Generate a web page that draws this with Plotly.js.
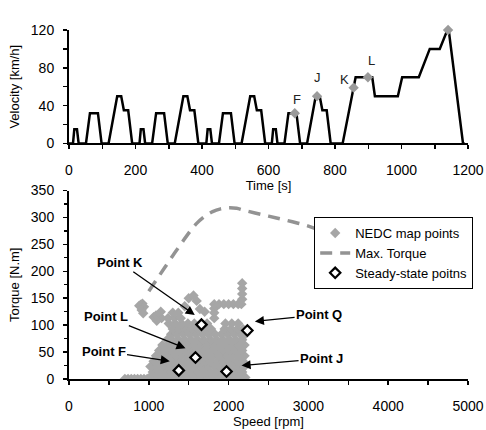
<!DOCTYPE html>
<html><head><meta charset="utf-8">
<script src="https://cdn.plot.ly/plotly-3.0.1.min.js"></script>
<style>html,body{margin:0;padding:0;background:#fff}#chart{width:486px;height:430px}</style>
</head><body><div id="chart"></div>
<script>
// ---- Top: NEDC velocity profile ----
const velTime = [0, 12, 16, 24, 29, 51, 63, 87, 98, 119, 145, 157, 165, 178, 190,
  212, 216, 224, 229, 250, 262, 286, 297, 318, 344, 356, 364, 377, 389,
  413, 417, 425, 430, 451, 463, 487, 498, 519, 545, 557, 565, 578, 590,
  610, 614, 622, 627, 648, 660, 684, 695, 716, 742, 754, 762, 775, 787,
  823, 862, 912, 920, 989, 1002, 1052, 1085, 1115, 1138, 1142, 1185, 1190];
const velKmh = [0, 0, 15, 15, 0, 0, 32, 32, 0, 0, 50, 50, 35, 35, 0,
  0, 15, 15, 0, 0, 32, 32, 0, 0, 50, 50, 35, 35, 0,
  0, 15, 15, 0, 0, 32, 32, 0, 0, 50, 50, 35, 35, 0,
  0, 15, 15, 0, 0, 32, 32, 0, 0, 50, 50, 35, 35, 0,
  0, 70, 70, 50, 50, 70, 70, 100, 100, 120, 120, 0, 0];
const ptLabels = ['F', 'J', 'K', 'L', 'Q'];
const ptTime = [679, 746, 856, 899, 1140];
const ptVel = [32, 50, 59, 70, 120];
const ptLabelTime = [687, 746, 829, 909, 1118];
const ptLabelVel = [47, 70, 68, 88, 132];

// ---- Bottom: torque vs speed ----
const maxTqSpeed = [1000, 1100, 1200, 1300, 1400, 1500, 1600, 1700, 1800, 1900, 2000, 2100, 2200, 2400, 2600, 2800, 3000, 3150];
const maxTq = [163, 185, 207, 229, 250, 271, 289, 302, 311, 316, 318, 317, 313, 306, 299, 292, 284, 276];

const ssLabels = ['Point F', 'Point J', 'Point K', 'Point L', 'Point Q'];
const ssSpeed = [1376, 1974, 1660, 1585, 2235];
const ssTorque = [16, 14, 101, 40, 90];
const ssLabelSpeed = [433, 3165, 645, 469, 3134];
const ssLabelTorque = [52, 38, 216, 116, 119];
const ssArrowSpeed = [1263, 2162, 1576, 1460, 2329];
const ssArrowTorque = [33, 25, 119, 57, 107];

const nedcSpeed = [
  1010,1090,1170,1250,1330,1410,1490,1570,1650,1730,1810,1890,1970,2050,2130,2210,
  1050,1130,1210,1290,1370,1450,1530,1610,1690,1770,1850,1930,2010,2090,2170,
  1020,1100,1180,1260,1340,1420,1500,1580,1660,1740,1820,1900,1980,2060,2140,2200,
  1060,1140,1220,1300,1380,1460,1540,1620,1700,1780,1860,1940,2020,2100,2180,
  1090,1170,1250,1330,1410,1490,1570,1650,1730,1810,1890,1970,2050,2130,2200,
  1130,1210,1290,1370,1450,1530,1610,1690,1770,1850,1930,2010,2090,2170,
  1170,1250,1330,1410,1490,1570,1650,1730,1810,1890,1970,2050,2130,2200,
  1230,1290,1370,1450,1530,1610,1690,1770,1850,1930,2010,2090,2170,
  1280,1350,1430,1510,1590,1670,1750,1830,1910,1990,2070,2150,2210,
  1300,1380,1460,1540,1620,1700,1780,1950,2030,2110,2180,
  1250,1330,1410,1490,1570,1730,1960,2040,2120,
  1160,1240,1320,1400,1820,
  1300,1370,1820,
  1820,
  1820,1880,1940,2000,2060,2120,2160,
  2170,2170,2170,2170,
  880,900,920,940,910,930,
  1060,1090,1100,1150,1450,1500,1560,1600,1640,1700,
  700,740,780,820,860,900,940,980];
const nedcTorque = [
  3,3,3,3,3,3,3,3,3,3,3,3,3,3,3,3,
  13,13,13,13,13,13,13,13,13,13,13,13,13,13,13,
  23,23,23,23,23,23,23,23,23,23,23,23,23,23,23,23,
  33,33,33,33,33,33,33,33,33,33,33,33,33,33,33,
  43,43,43,43,43,43,43,43,43,43,43,43,43,43,43,
  53,53,53,53,53,53,53,53,53,53,53,53,53,53,
  63,63,63,63,63,63,63,63,63,63,63,63,63,63,
  73,73,73,73,73,73,73,73,73,73,73,73,73,
  83,83,83,83,83,83,83,83,83,83,83,83,83,
  93,93,93,93,93,93,93,93,93,93,93,
  103,103,103,103,103,103,103,103,103,
  113,113,113,113,113,
  123,123,123,
  131,
  139,139,139,139,139,139,139,
  148,158,168,178,
  136,138,140,134,128,122,
  115,118,108,125,135,150,155,145,130,125,
  0,0,0,0,0,0,0,0];

const FONT = 'Arial, "Liberation Sans", sans-serif';

const traces = [
  {x: velTime, y: velKmh, xaxis: 'x', yaxis: 'y', type: 'scatter', mode: 'lines',
   line: {color: '#000', width: 2.5}, showlegend: false, hoverinfo: 'skip'},
  {x: ptTime, y: ptVel, xaxis: 'x', yaxis: 'y', type: 'scatter', mode: 'markers',
   marker: {symbol: 'diamond', size: 8, color: '#9a9a9a'}, cliponaxis: false, showlegend: false},
  {x: nedcSpeed, y: nedcTorque, xaxis: 'x2', yaxis: 'y2', type: 'scatter', mode: 'markers',
   name: 'NEDC map points', marker: {symbol: 'diamond', size: 8, color: '#a6a6a6'}},
  {x: maxTqSpeed, y: maxTq, xaxis: 'x2', yaxis: 'y2', type: 'scatter', mode: 'lines',
   name: 'Max. Torque', line: {color: '#939393', width: 3.5, dash: '12px,8px', shape: 'spline'}},
  {x: ssSpeed, y: ssTorque, xaxis: 'x2', yaxis: 'y2', type: 'scatter', mode: 'markers',
   name: 'Steady-state poitns', marker: {symbol: 'diamond', size: 8, color: '#fff', line: {color: '#000', width: 2.2}}}
];

const annotations = [];
ptLabels.forEach((t, i) => annotations.push({
  xref: 'x', yref: 'y', x: ptLabelTime[i], y: ptLabelVel[i], text: t, showarrow: false,
  font: {family: FONT, size: 13, color: '#222'}
}));
ssLabels.forEach((t, i) => annotations.push({
  xref: 'x2', yref: 'y2', x: ssArrowSpeed[i], y: ssArrowTorque[i],
  axref: 'x2', ayref: 'y2', ax: ssLabelSpeed[i], ay: ssLabelTorque[i],
  text: '<b>' + t + '</b>', showarrow: true, arrowhead: 2, arrowsize: 1.4, arrowwidth: 1.3,
  arrowcolor: '#000', font: {family: FONT, size: 13, color: '#000'}
}));

const axCommon = {
  showline: true, linecolor: '#000', linewidth: 2, ticks: 'outside', ticklen: 4,
  tickwidth: 1.5, tickcolor: '#000', showgrid: false, zeroline: false,
  tickfont: {family: FONT, size: 14, color: '#000'}
};

const layout = {
  width: 486, height: 430,
  margin: {l: 69, r: 18, t: 30, b: 51},
  paper_bgcolor: '#fff', plot_bgcolor: '#fff',
  font: {family: FONT, color: '#000'},
  xaxis: Object.assign({}, axCommon, {domain: [0, 1], anchor: 'y', range: [0, 1200], dtick: 200,
    minor: {dtick: 100, ticks: 'outside', ticklen: 4, tickwidth: 1.5, tickcolor: '#000'},
    ticklabelstandoff: 9,
    title: {text: 'Time [s]', font: {family: FONT, size: 13}, standoff: 4}}),
  yaxis: Object.assign({}, axCommon, {domain: [0.675, 1], anchor: 'x', range: [0, 120], dtick: 40,
    minor: {dtick: 20, ticks: 'outside', ticklen: 4, tickwidth: 1.5, tickcolor: '#000'},
    ticklabelstandoff: 6,
    title: {text: 'Velocity [km/h]', font: {family: FONT, size: 13}, standoff: 8}}),
  xaxis2: Object.assign({}, axCommon, {domain: [0, 1], anchor: 'y2', range: [0, 5000], dtick: 1000,
    minor: {dtick: 500, ticks: 'outside', ticklen: 4, tickwidth: 1.5, tickcolor: '#000'},
    ticklabelstandoff: 9,
    title: {text: 'Speed [rpm]', font: {family: FONT, size: 13}, standoff: 4}}),
  yaxis2: Object.assign({}, axCommon, {domain: [0, 0.54], anchor: 'x2', range: [0, 350], dtick: 50,
    minor: {dtick: 25, ticks: 'outside', ticklen: 3, tickwidth: 1.2, tickcolor: '#000'},
    ticklabelstandoff: 6,
    title: {text: 'Torque [N.m]', font: {family: FONT, size: 13}, standoff: 8}}),
  legend: {x: 1.013, xanchor: 'right', y: 0.464, yanchor: 'top', bgcolor: '#fff',
    bordercolor: '#000', borderwidth: 1, font: {family: FONT, size: 13, color: '#000'},
    itemwidth: 30, tracegroupgap: 0},
  annotations: annotations,
  showlegend: true
};

Plotly.newPlot('chart', traces, layout, {displayModeBar: false, staticPlot: true});
</script>
</body></html>
